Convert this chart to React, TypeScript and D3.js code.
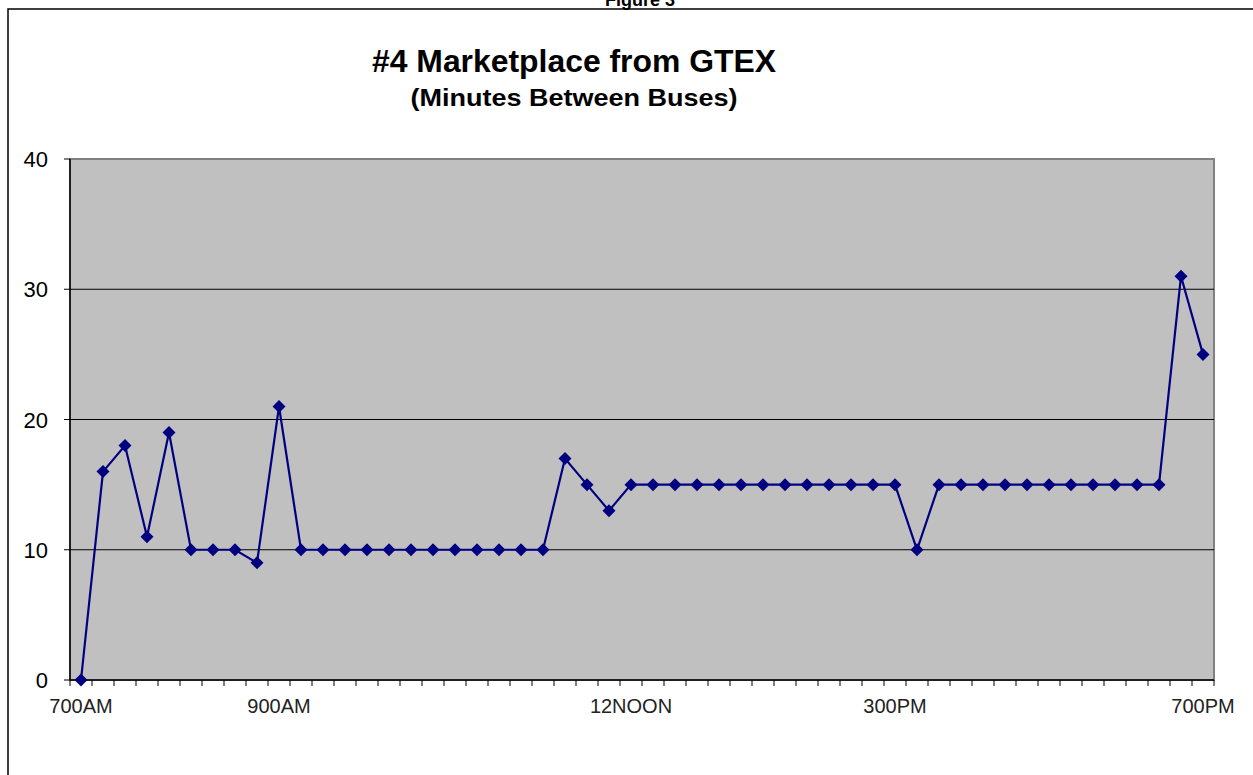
import React from "react";
import * as d3 from "d3";

const minutesBetween: number[] = [
  0, 16, 18, 11, 19, 10, 10, 10, 9, 21,
  10, 10, 10, 10, 10, 10, 10, 10, 10, 10,
  10, 10, 17, 15, 13, 15, 15, 15, 15, 15,
  15, 15, 15, 15, 15, 15, 15, 15, 10, 15,
  15, 15, 15, 15, 15, 15, 15, 15, 15, 15,
  31, 25,
];

const tickLabels: { [k: number]: string } = {
  0: "700AM",
  9: "900AM",
  25: "12NOON",
  37: "300PM",
  51: "700PM",
};

const yTicks: number[] = [0, 10, 20, 30, 40];

const W = 1253;
const H = 775;
const plot = { left: 70, right: 1214, top: 159, bottom: 680 };

export default function App() {
  const idx = minutesBetween.map((_, i) => i);
  const x = d3
    .scaleBand<number>()
    .domain(idx)
    .range([plot.left, plot.right])
    .padding(0);
  const y = d3.scaleLinear().domain([0, 40]).range([plot.bottom, plot.top]);
  const cx = (i: number) => (x(i) as number) + x.bandwidth() / 2;

  const line = d3
    .line<number>()
    .x((_, i) => cx(i))
    .y((d) => y(d));

  const boundaries = idx.map((i) => x(i) as number).concat([plot.right]);
  const font = "Arial, 'Liberation Sans', sans-serif";

  return (
    <svg
      width={W}
      height={H}
      style={{ position: "absolute", left: 0, top: 0, background: "#fff" }}
    >
      <rect x={8} y={9} width={W + 20} height={H + 20} fill="none" stroke="#000" strokeWidth={1.5} />
      <text x={640} y={6} textAnchor="middle" fontFamily={font} fontWeight="bold" fontSize={18}>
        Figure 3
      </text>
      <text
        x={574}
        y={72}
        textAnchor="middle"
        fontFamily={font}
        fontWeight="bold"
        fontSize={31}
        textLength={404}
        lengthAdjust="spacingAndGlyphs"
      >
        #4 Marketplace from GTEX
      </text>
      <text
        x={574}
        y={106}
        textAnchor="middle"
        fontFamily={font}
        fontWeight="bold"
        fontSize={24}
        textLength={327}
        lengthAdjust="spacingAndGlyphs"
      >
        (Minutes Between Buses)
      </text>

      <rect
        x={plot.left}
        y={plot.top}
        width={plot.right - plot.left}
        height={plot.bottom - plot.top}
        fill="#C0C0C0"
        stroke="#808080"
        strokeWidth={2}
      />
      {yTicks
        .filter((t) => t > 0 && t < 40)
        .map((t) => (
          <line key={t} x1={plot.left} x2={plot.right} y1={y(t)} y2={y(t)} stroke="#000" strokeWidth={1} />
        ))}
      <line x1={plot.left} x2={plot.left} y1={plot.top} y2={plot.bottom} stroke="#000" strokeWidth={1.5} />
      <line x1={plot.left} x2={plot.right} y1={plot.bottom} y2={plot.bottom} stroke="#000" strokeWidth={1.5} />

      {yTicks.map((t) => (
        <g key={t}>
          <line x1={plot.left - 6} x2={plot.left} y1={y(t)} y2={y(t)} stroke="#000" strokeWidth={1} />
          <text x={48} y={y(t) + 8} textAnchor="end" fontFamily={font} fontSize={22} fill="#000">
            {t}
          </text>
        </g>
      ))}

      {boundaries.map((b, i) => (
        <line key={i} x1={b} x2={b} y1={plot.bottom} y2={plot.bottom + 6} stroke="#000" strokeWidth={1} />
      ))}
      {idx
        .filter((i) => tickLabels[i])
        .map((i) => (
          <text key={i} x={cx(i)} y={713} textAnchor="middle" fontFamily={font} fontSize={20} fill="#222">
            {tickLabels[i]}
          </text>
        ))}

      <path d={line(minutesBetween) || ""} fill="none" stroke="#000080" strokeWidth={2.2} />
      {minutesBetween.map((v, i) => (
        <path
          key={i}
          d={`M${cx(i)},${y(v) - 6.5}L${cx(i) + 6.5},${y(v)}L${cx(i)},${y(v) + 6.5}L${cx(i) - 6.5},${y(v)}Z`}
          fill="#000080"
        />
      ))}
    </svg>
  );
}
